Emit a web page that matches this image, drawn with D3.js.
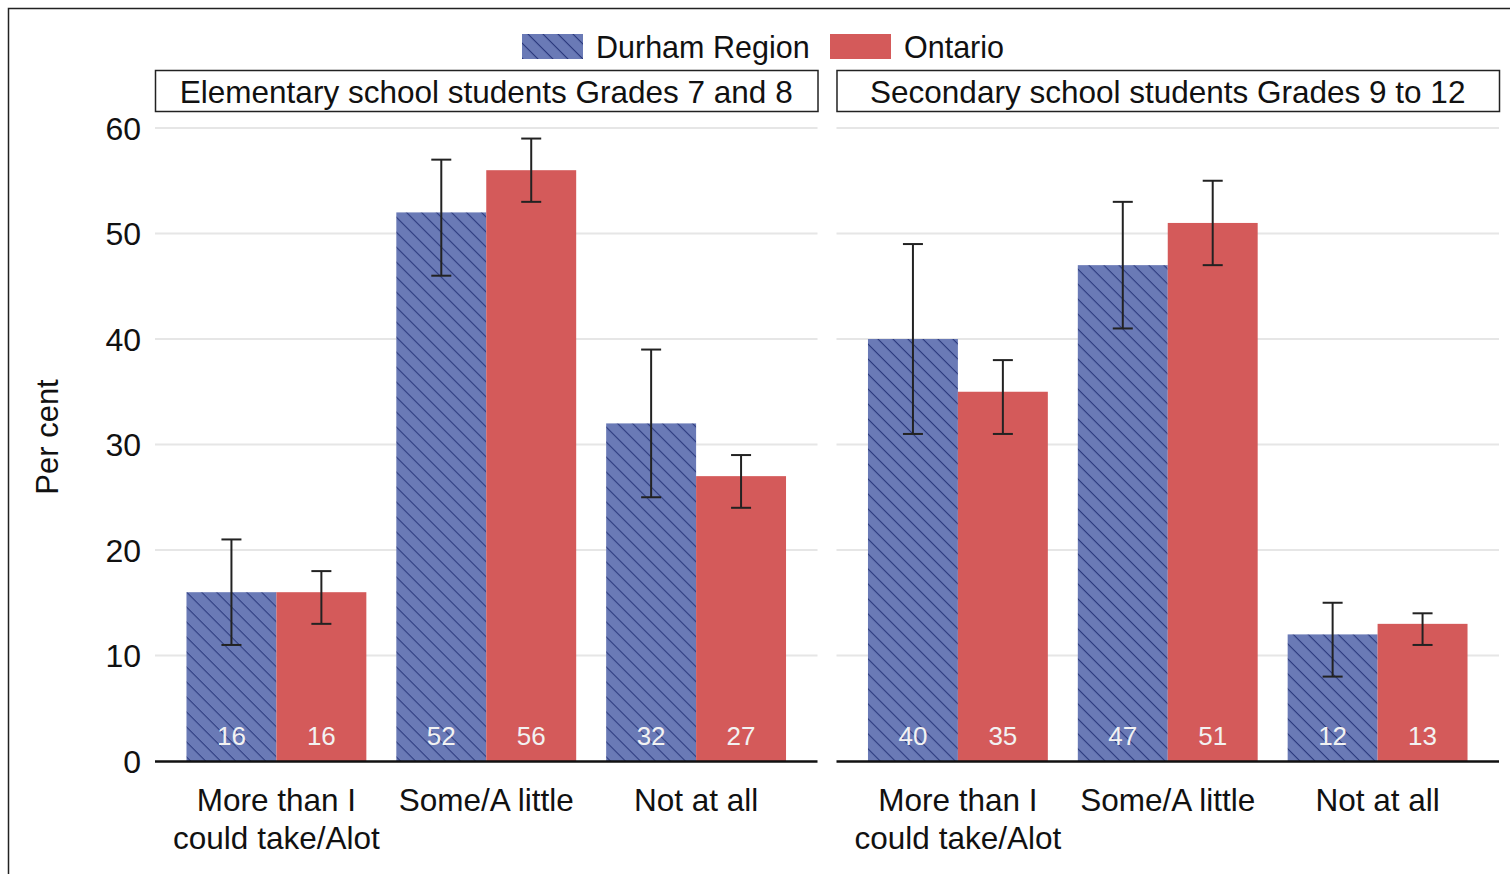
<!DOCTYPE html>
<html>
<head>
<meta charset="utf-8">
<script src="https://cdn.jsdelivr.net/npm/d3@7"></script>
<style>
  body { margin: 0; background: #fff; }
  svg { display: block; font-family: "Liberation Sans", Arial, sans-serif; }
</style>
</head>
<body>
<svg width="1510" height="874"></svg>
<script>
"use strict";

// 데이터
const panels = ["Elementary school students Grades 7 and 8", "Secondary school students Grades 9 to 12"];
const categories = ["More than I could take/Alot", "Some/A little", "Not at all"];
const series = ["Durham Region", "Ontario"];
const yTicks = [0, 10, 20, 30, 40, 50, 60];

// [panel][category] 값
const durham = [[16, 52, 32], [40, 47, 12]];
const durhamLow = [[11, 46, 25], [31, 41, 8]];
const durhamHigh = [[21, 57, 39], [49, 53, 15]];
const ontario = [[16, 56, 27], [35, 51, 13]];
const ontarioLow = [[13, 53, 24], [31, 47, 11]];
const ontarioHigh = [[18, 59, 29], [38, 55, 14]];

const blue = "#6a7ab6";
const hatch = "#2c3a7e";
const red = "#d45a5a";

const svg = d3.select("svg");

// 빗금 패턴 (\ 방향)
const defs = svg.append("defs");
const pat = defs.append("pattern")
  .attr("id", "hatch")
  .attr("patternUnits", "userSpaceOnUse")
  .attr("width", 10.6)
  .attr("height", 10.6)
  .attr("patternTransform", "rotate(45)");
pat.append("rect").attr("width", 10.6).attr("height", 10.6).attr("fill", blue);
pat.append("line")
  .attr("x1", 0).attr("y1", 0).attr("x2", 10.6).attr("y2", 0)
  .attr("stroke", hatch).attr("stroke-width", 2.2);

// 바깥 테두리
svg.append("rect")
  .attr("x", 8.5).attr("y", 8.5)
  .attr("width", 1540).attr("height", 900)
  .attr("fill", "none").attr("stroke", "#222").attr("stroke-width", 1.5);

const y = d3.scaleLinear().domain([0, 60]).range([761, 128]);
const panelX = d3.scaleBand().domain(panels).range([155, 1499]).paddingInner(19 / 682);

// y축 눈금 라벨
svg.append("g").selectAll("text")
  .data(yTicks)
  .join("text")
  .attr("x", 141)
  .attr("y", d => y(d))
  .attr("dy", "0.36em")
  .attr("text-anchor", "end")
  .style("font-size", "32px")
  .style("fill", "#111")
  .text(d => d);

svg.append("text")
  .attr("transform", "translate(58,437) rotate(-90)")
  .attr("text-anchor", "middle")
  .style("font-size", "31px")
  .style("fill", "#111")
  .text("Per cent");

// 범례
const legend = [
  { label: series[0], x: 522, fill: "url(#hatch)" },
  { label: series[1], x: 830, fill: red }
];
legend.forEach(l => {
  svg.append("rect")
    .attr("x", l.x).attr("y", 34).attr("width", 61).attr("height", 25)
    .attr("fill", l.fill);
  svg.append("text")
    .attr("x", l.x + 74).attr("y", 47).attr("dy", "0.36em")
    .style("font-size", "30.5px").style("fill", "#111")
    .text(l.label);
});

panels.forEach((p, pi) => {
  const x0 = panelX(p);
  const w = panelX.bandwidth();
  const g = svg.append("g");

  // 제목 박스
  g.append("rect")
    .attr("x", x0 + 0.5).attr("y", 70.5).attr("width", w).attr("height", 41)
    .attr("fill", "#fff").attr("stroke", "#222").attr("stroke-width", 1.5);
  g.append("text")
    .attr("x", x0 + w / 2).attr("y", 92).attr("dy", "0.36em")
    .attr("text-anchor", "middle")
    .style("font-size", "31.5px").style("fill", "#111")
    .text(p);

  // 격자선
  g.selectAll("line.grid")
    .data(yTicks.filter(d => d > 0))
    .join("line")
    .attr("class", "grid")
    .attr("x1", x0).attr("x2", x0 + w)
    .attr("y1", d => y(d)).attr("y2", d => y(d))
    .attr("stroke", "#e6e6e6").attr("stroke-width", 2);

  const x = d3.scaleBand().domain(categories).range([x0, x0 + w]).paddingInner(1 / 7).paddingOuter(0.15);
  const xs = d3.scaleBand().domain(series).range([0, x.bandwidth()]);

  const rows = [];
  categories.forEach((c, ci) => {
    rows.push({ c, s: series[0], v: durham[pi][ci], lo: durhamLow[pi][ci], hi: durhamHigh[pi][ci], fill: "url(#hatch)" });
    rows.push({ c, s: series[1], v: ontario[pi][ci], lo: ontarioLow[pi][ci], hi: ontarioHigh[pi][ci], fill: red });
  });

  g.selectAll("rect.bar")
    .data(rows)
    .join("rect")
    .attr("class", "bar")
    .attr("x", d => x(d.c) + xs(d.s))
    .attr("y", d => y(d.v))
    .attr("width", xs.bandwidth())
    .attr("height", d => y(0) - y(d.v))
    .attr("fill", d => d.fill);

  // 막대 안 값
  g.selectAll("text.val")
    .data(rows)
    .join("text")
    .attr("class", "val")
    .attr("x", d => x(d.c) + xs(d.s) + xs.bandwidth() / 2)
    .attr("y", 736)
    .attr("dy", "0.36em")
    .attr("text-anchor", "middle")
    .style("font-size", "26px")
    .style("fill", "#f2f2f2")
    .text(d => d.v);

  // 오차 막대
  rows.forEach(d => {
    const cx = x(d.c) + xs(d.s) + xs.bandwidth() / 2;
    g.append("line").attr("x1", cx).attr("x2", cx).attr("y1", y(d.lo)).attr("y2", y(d.hi))
      .attr("stroke", "#222").attr("stroke-width", 2);
    [d.lo, d.hi].forEach(v => {
      g.append("line").attr("x1", cx - 10).attr("x2", cx + 10).attr("y1", y(v)).attr("y2", y(v))
        .attr("stroke", "#222").attr("stroke-width", 2);
    });
  });

  // 기준선
  g.append("line")
    .attr("x1", x0).attr("x2", x0 + w)
    .attr("y1", y(0) + 0.5).attr("y2", y(0) + 0.5)
    .attr("stroke", "#111").attr("stroke-width", 2.5);

  // 범주 라벨
  categories.forEach(c => {
    const lines = c === categories[0] ? ["More than I", "could take/Alot"] : [c];
    const t = g.append("text")
      .attr("x", x(c) + x.bandwidth() / 2)
      .attr("y", 800)
      .attr("text-anchor", "middle")
      .style("font-size", "31.5px")
      .style("fill", "#111");
    lines.forEach((ln, i) => {
      t.append("tspan").attr("x", x(c) + x.bandwidth() / 2).attr("dy", i === 0 ? "0.36em" : "1.2em").text(ln);
    });
  });
});
</script>
</body>
</html>
